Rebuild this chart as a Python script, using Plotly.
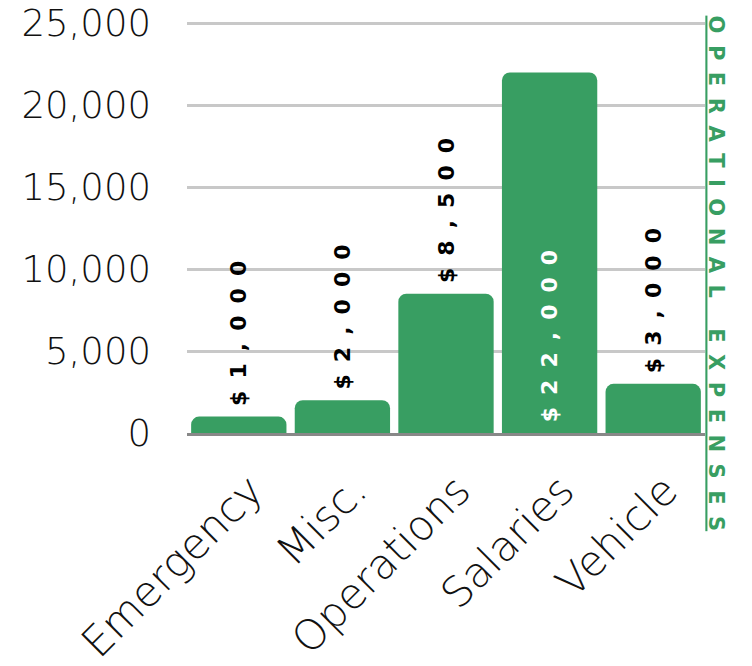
import plotly.graph_objects as go

categories = ["Emergency", "Misc.", "Operations", "Salaries", "Vehicle"]
values = [1000, 2000, 8500, 22000, 3000]
y_tick_vals = [0, 5000, 10000, 15000, 20000, 25000]
y_tick_text = ["0", "5,000", "10,000", "15,000", "20,000", "25,000"]
title_text = "OPERATIONAL EXPENSES"

GREEN = "#389e62"
SEP = "\u00a0\u2009"
LSEP = "\u00a0\u2009"

bar_text = ["\u00a0" + LSEP.join(f"${v:,}") for v in values]
positions = ["inside" if v > 15000 else "outside" for v in values]

fig = go.Figure(
    go.Bar(
        x=categories,
        y=values,
        marker=dict(color=GREEN, cornerradius=8, line=dict(width=0)),
        text=bar_text,
        textposition=positions,
        textangle=-90,
        insidetextanchor="start",
        constraintext="none",
        cliponaxis=False,
        insidetextfont=dict(family="DejaVu Sans", size=22, color="white", weight="bold"),
        outsidetextfont=dict(family="DejaVu Sans", size=22, color="black", weight="bold"),
        hoverinfo="skip",
    )
)

title_spaced = SEP.join(title_text).replace(SEP + " " + SEP, "\u00a0\u2009\u00a0\u2009\u00a0")
fig.add_annotation(
    text=title_spaced,
    xref="paper", yref="paper",
    x=1.023, y=0.388,
    xanchor="center", yanchor="middle",
    textangle=90,
    showarrow=False,
    font=dict(family="DejaVu Sans", size=21, color=GREEN, weight="bold", lineposition="under"),
)

fig.update_layout(
    width=752, height=666,
    margin=dict(l=179, r=55, t=14, b=241, autoexpand=False),
    paper_bgcolor="white",
    plot_bgcolor="white",
    bargap=0.08,
    showlegend=False,
    xaxis=dict(
        tickangle=-45,
        tickfont=dict(family="DejaVu Sans", size=42, color="#111111", weight=200),
        showline=True, linecolor="#888888", linewidth=3,
        showgrid=False, ticks="",
        automargin=False,
        ticklabelstandoff=13,
        ticklabelshift=12,
        ticklabeloverflow="allow",
    ),
    yaxis=dict(
        range=[0, 25080],
        tickvals=y_tick_vals,
        ticktext=y_tick_text,
        tickfont=dict(family="DejaVu Sans", size=37, color="#111111", weight=200),
        showgrid=True, gridcolor="#c8c8c8", gridwidth=2.5,
        zeroline=False, showline=False,
        ticklabelstandoff=35,
        automargin=False,
        ticklabeloverflow="allow",
    ),
)

fig.write_html("out.html")
